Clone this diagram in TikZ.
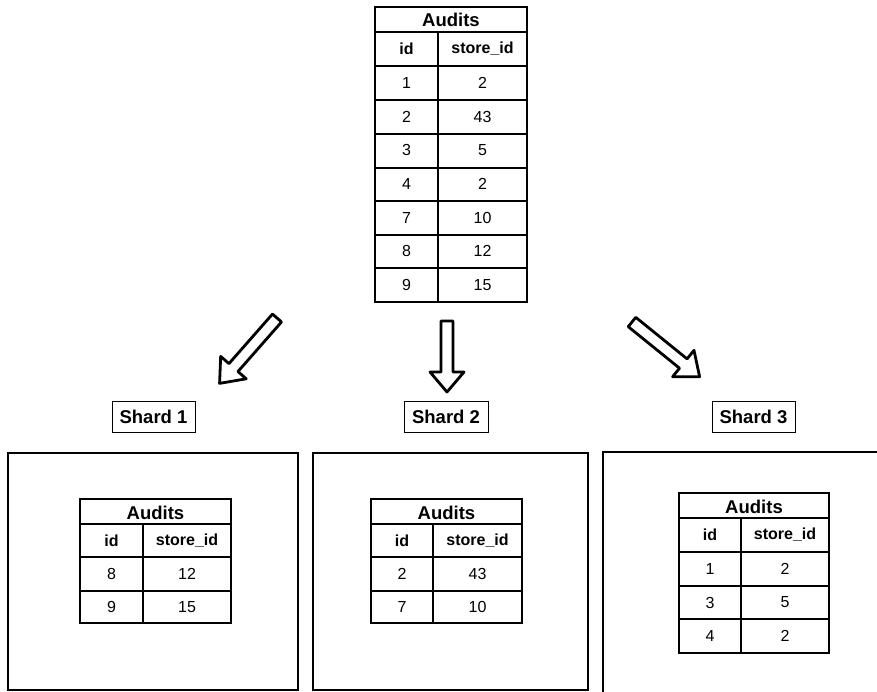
\documentclass[tikz,border=0pt]{standalone}
\usepackage{fontspec}
\setmainfont{Liberation Sans}
\begin{document}
\begin{tikzpicture}[x=1pt,y=-1pt,
  line/.style={draw=black,line width=1.1pt},
  shardbox/.style={draw=black,line width=1.2pt},
  blockarrow/.style={draw=black,line width=2.8pt,line join=round,fill=white},
  hdr/.style={font=\bfseries\fontsize{18.5}{19}\selectfont,inner sep=0pt},
  colh/.style={font=\bfseries\fontsize{16}{16}\selectfont,inner sep=0pt},
  cell/.style={font=\fontsize{16}{16}\selectfont,inner sep=0pt},
  shardlabel/.style={draw=black,line width=1pt,font=\bfseries\fontsize{18.5}{19}\selectfont,inner sep=0pt,minimum height=31pt}
]
\useasboundingbox (0,0) rectangle (877,691);
\clip (0,0) rectangle (877,691);

% ---------- top table ----------
\draw[line] (375,7) rectangle (527,302);
\draw[line] (375,32) -- (527,32);
\foreach \yy in {66,100,134,168,201,235,268} \draw[line] (375,\yy) -- (527,\yy);
\draw[line] (438,32) -- (438,302);
\node[hdr] (tTitle) at (451,20) {Audits};
\node[colh] (tIdH) at (406.5,49) {id};
\node[colh] (tStH) at (482.5,49) {store\_id};
\foreach \i/\a/\b [count=\k] in {1/1/2,2/2/43,3/3/5,4/4/2,5/7/10,6/8/12,7/9/15}{
  \node[cell] (tId\i) at (406.5,{66+(\k-0.5)*33.7}) {\a};
  \node[cell] (tSt\i) at (482.5,{66+(\k-0.5)*33.7}) {\b};
}

% ---------- arrows ----------
\begin{scope}[shift={(277,318)},rotate=228.7]
  \draw[blockarrow] (0,-6) -- (66,-6) -- (66,-17) -- (87,0) -- (66,17) -- (66,6) -- (0,6) -- cycle;
\end{scope}
\begin{scope}[shift={(447,321)},rotate=-90]
  \draw[blockarrow] (0,-6) -- (51,-6) -- (51,-17) -- (71,0) -- (51,17) -- (51,6) -- (0,6) -- cycle;
\end{scope}
\begin{scope}[shift={(632,322)},rotate=-39]
  \draw[blockarrow] (0,-6) -- (66,-6) -- (66,-17) -- (87,0) -- (66,17) -- (66,6) -- (0,6) -- cycle;
\end{scope}

% ---------- shard labels ----------
\node[shardlabel,minimum width=83pt] (s1) at (153.5,417) {Shard 1};
\node[shardlabel,minimum width=84pt] (s2) at (446,417) {Shard 2};
\node[shardlabel,minimum width=83pt] (s3) at (753.5,417) {Shard 3};

% ---------- shard boxes ----------
\draw[shardbox] (8,453) rectangle (298,690);
\draw[shardbox] (313,453) rectangle (588,690);
\draw[shardbox] (603,452) rectangle (900,700);

% ---------- shard 1 table ----------
\draw[line] (80,499) rectangle (231,623);
\draw[line] (80,524) -- (231,524);
\draw[line] (80,557) -- (231,557);
\draw[line] (80,591) -- (231,591);
\draw[line] (143,524) -- (143,623);
\node[hdr] (aTitle) at (155.5,513) {Audits};
\node[colh] (aIdH) at (111.5,541) {id};
\node[colh] (aStH) at (187,541) {store\_id};
\node[cell] (aId1) at (111.5,574) {8};
\node[cell] (aSt1) at (187,574) {12};
\node[cell] (aId2) at (111.5,607) {9};
\node[cell] (aSt2) at (187,607) {15};

% ---------- shard 2 table ----------
\draw[line] (371,499) rectangle (522,623);
\draw[line] (371,524) -- (522,524);
\draw[line] (371,557) -- (522,557);
\draw[line] (371,591) -- (522,591);
\draw[line] (433,524) -- (433,623);
\node[hdr] (bTitle) at (446.5,513) {Audits};
\node[colh] (bIdH) at (402,541) {id};
\node[colh] (bStH) at (477.5,541) {store\_id};
\node[cell] (bId1) at (402,574) {2};
\node[cell] (bSt1) at (477.5,574) {43};
\node[cell] (bId2) at (402,607) {7};
\node[cell] (bSt2) at (477.5,607) {10};

% ---------- shard 3 table ----------
\draw[line] (679,493) rectangle (829,653);
\draw[line] (679,518) -- (829,518);
\draw[line] (679,552) -- (829,552);
\draw[line] (679,586) -- (829,586);
\draw[line] (679,619) -- (829,619);
\draw[line] (741,518) -- (741,653);
\node[hdr] (cTitle) at (754,507) {Audits};
\node[colh] (cIdH) at (710,535) {id};
\node[colh] (cStH) at (785,535) {store\_id};
\node[cell] (cId1) at (710,569) {1};
\node[cell] (cSt1) at (785,569) {2};
\node[cell] (cId2) at (710,602.5) {3};
\node[cell] (cSt2) at (785,602.5) {5};
\node[cell] (cId3) at (710,636) {4};
\node[cell] (cSt3) at (785,636) {2};
\end{tikzpicture}
\end{document}
